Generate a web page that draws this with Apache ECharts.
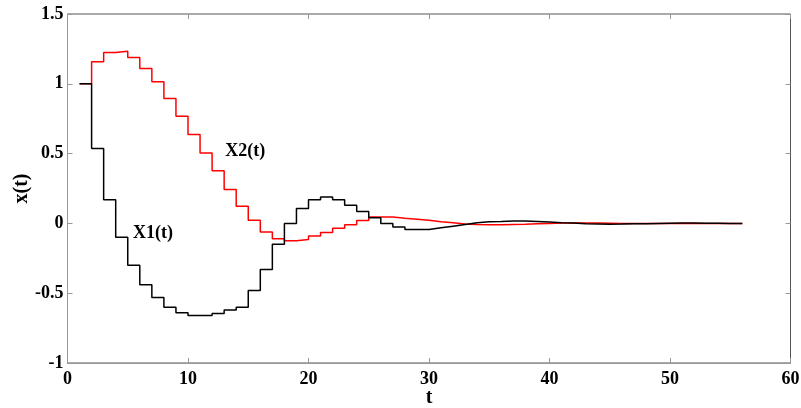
<!DOCTYPE html>
<html>
<head>
<meta charset="utf-8">
<script src="https://cdn.jsdelivr.net/npm/echarts@6/dist/echarts.min.js"></script>
<style>html,body{margin:0;padding:0;background:#fff}#c{width:801px;height:408px}</style>
</head>
<body>
<div id="c"></div>
<script>
var tValues = [];
for (var i = 1; i <= 56; i++) tValues.push(i);

var x1Values = [1.0, 0.537, 0.17, -0.10, -0.30, -0.44, -0.53, -0.60, -0.64, -0.66,
  -0.66, -0.645, -0.62, -0.60, -0.48, -0.33, -0.15, 0.0, 0.107, 0.17,
  0.19, 0.17, 0.13, 0.085, 0.04, 0.0, -0.025, -0.044, -0.044, -0.032,
  -0.02, -0.008, 0.004, 0.012, 0.013, 0.018, 0.018, 0.014, 0.01, 0.005,
  0.002, -0.002, -0.004, -0.006, -0.005, -0.003, -0.002, 0.0, 0.001, 0.002,
  0.002, 0.001, 0.001, 0.0, 0.0, 0.0];

var x2Values = [1.0, 1.158, 1.225, 1.234, 1.189, 1.11, 1.014, 0.895, 0.768, 0.637,
  0.505, 0.378, 0.243, 0.123, 0.023, -0.061, -0.11, -0.125, -0.115, -0.09,
  -0.065, -0.035, -0.01, 0.02, 0.045, 0.045, 0.037, 0.03, 0.022, 0.012,
  0.004, -0.004, -0.008, -0.01, -0.01, -0.008, -0.006, -0.003, 0.0, 0.002,
  0.003, 0.003, 0.002, 0.001, 0.0, -0.001, 0.0, 0.0, 0.0, 0.0,
  0.0, 0.0, 0.0, 0.0, 0.0, 0.0];

var xTicks = {min: 0, max: 60, interval: 10};
var yTicks = {min: -1, max: 1.5, interval: 0.5};
var x1Label = {text: 'X1(t)', t: 7.1, v: -0.068};
var x2Label = {text: 'X2(t)', t: 14.75, v: 0.513};

function pairs(ts, vs) { return ts.map(function (t, i) { return [t, vs[i]]; }); }

var font = 'Liberation Serif';
var axisLine = {show: true, onZero: false, lineStyle: {color: '#999', width: 1}};
var tick = {show: true, inside: true, length: 5, lineStyle: {color: '#999'}};
var lbl = {fontFamily: font, fontWeight: 'bold', fontSize: 18, color: '#000'};

function mp(l) {
  return {
    symbol: 'circle', symbolSize: 1, silent: true,
    itemStyle: {color: 'rgba(0,0,0,0)'},
    label: {show: true, position: 'inside', formatter: l.text, fontFamily: font, fontWeight: 'bold', fontSize: 18, color: '#000'},
    data: [{coord: [l.t, l.v]}]
  };
}

var chart = echarts.init(document.getElementById('c'), null, {renderer: 'canvas'});
chart.setOption({
  animation: false,
  backgroundColor: '#fff',
  grid: {left: 67.5, top: 14, right: 10.5, bottom: 45, containLabel: false, outerBoundsMode: 'none',
    show: true, borderColor: '#555', borderWidth: 1},
  xAxis: [{
    type: 'value', min: xTicks.min, max: xTicks.max, interval: xTicks.interval,
    name: 't', nameLocation: 'middle', nameGap: 25, nameMoveOverlap: false,
    nameTextStyle: {fontFamily: font, fontWeight: 'bold', fontSize: 20, color: '#000'},
    axisLine: axisLine, axisTick: tick, splitLine: {show: false},
    axisLabel: Object.assign({margin: 7}, lbl)
  }, {
    type: 'value', position: 'top', min: xTicks.min, max: xTicks.max, interval: xTicks.interval,
    axisLine: {show: false, onZero: false}, axisTick: tick, axisLabel: {show: false}, splitLine: {show: false}
  }],
  yAxis: [{
    type: 'value', min: yTicks.min, max: yTicks.max, interval: yTicks.interval,
    name: 'x(t)', nameLocation: 'middle', nameGap: 36, nameRotate: 90, nameMoveOverlap: false,
    nameTextStyle: {fontFamily: font, fontWeight: 'bold', fontSize: 20, color: '#000'},
    axisLine: axisLine, axisTick: tick, splitLine: {show: false},
    axisLabel: Object.assign({margin: 4}, lbl)
  }, {
    type: 'value', position: 'right', min: yTicks.min, max: yTicks.max, interval: yTicks.interval,
    axisLine: {show: false, onZero: false}, axisTick: tick, axisLabel: {show: false}, splitLine: {show: false}
  }],
  series: [{
    type: 'line', step: 'end', data: pairs(tValues, x2Values), showSymbol: false,
    lineStyle: {color: '#ff0000', width: 1.5}, itemStyle: {color: '#ff0000'},
    markPoint: mp(x2Label), z: 2
  }, {
    type: 'line', step: 'end', data: pairs(tValues, x1Values), showSymbol: false,
    lineStyle: {color: '#000', width: 1.5}, itemStyle: {color: '#000'},
    markPoint: mp(x1Label), z: 3
  }]
});
</script>
</body>
</html>
